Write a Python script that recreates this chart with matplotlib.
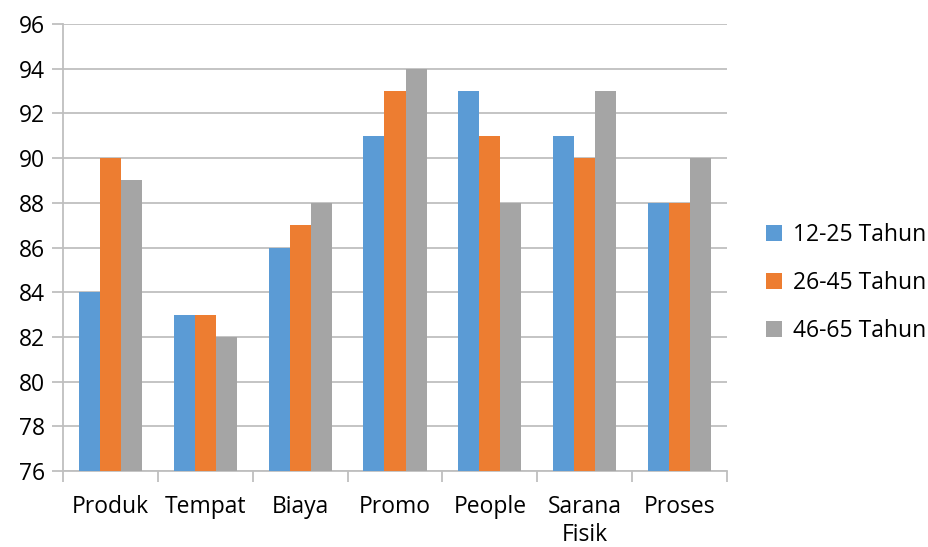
import numpy as np
import matplotlib.pyplot as plt

plt.rcParams['font.family'] = ['Open Sans', 'DejaVu Sans']

categories = ["Produk", "Tempat", "Biaya", "Promo", "People", "Sarana\nFisik", "Proses"]
series_names = ["12-25 Tahun", "26-45 Tahun", "46-65 Tahun"]
usia_12_25 = [84, 83, 86, 91, 93, 91, 88]
usia_26_45 = [90, 83, 87, 93, 91, 90, 88]
usia_46_65 = [89, 82, 88, 94, 88, 93, 90]
y_ticks = [76, 78, 80, 82, 84, 86, 88, 90, 92, 94, 96]

colors = ["#5B9BD5", "#ED7D31", "#A5A5A5"]
grid_color = "#BFBFBF"
fs = 16.5

fig = plt.figure(figsize=(9.29, 5.47), dpi=100)
ax = fig.add_axes([0.0678, 0.1389, 0.7148, 0.8172])

x = np.arange(len(categories))
w = 0.222
for i, (vals, name) in enumerate(zip([usia_12_25, usia_26_45, usia_46_65], series_names)):
    ax.bar(x + (i - 1) * w, np.array(vals) - y_ticks[0], width=w, bottom=y_ticks[0],
           color=colors[i], label=name, zorder=3)

ax.set_xlim(-0.5, len(categories) - 0.5)
ax.set_ylim(y_ticks[0], y_ticks[-1])
ax.set_yticks(y_ticks)
ax.yaxis.grid(True, color=grid_color, linewidth=1.3, zorder=0)
ax.set_axisbelow(True)

for side in ["top", "right"]:
    ax.spines[side].set_visible(False)
for side in ["left", "bottom"]:
    ax.spines[side].set_color(grid_color)
    ax.spines[side].set_linewidth(1.3)

ax.tick_params(axis="y", length=8, width=1.3, color=grid_color, labelsize=fs, pad=5)

# category labels in the middle, tick marks on the boundaries
ax.set_xticks(x)
ax.set_xticklabels(categories, fontsize=fs, va="top", linespacing=1.22)
ax.tick_params(axis="x", which="major", length=0, pad=17)
ax.set_xticks(np.arange(len(categories) + 1) - 0.5, minor=True)
ax.tick_params(axis="x", which="minor", length=8, width=1.3, color=grid_color)

fig.legend(loc="center left", bbox_to_anchor=(0.815, 0.483), frameon=False,
           fontsize=fs, handlelength=0.7, handleheight=0.7, handletextpad=0.45,
           labelspacing=1.05, borderaxespad=0)

fig.savefig("out.png", dpi=100)
